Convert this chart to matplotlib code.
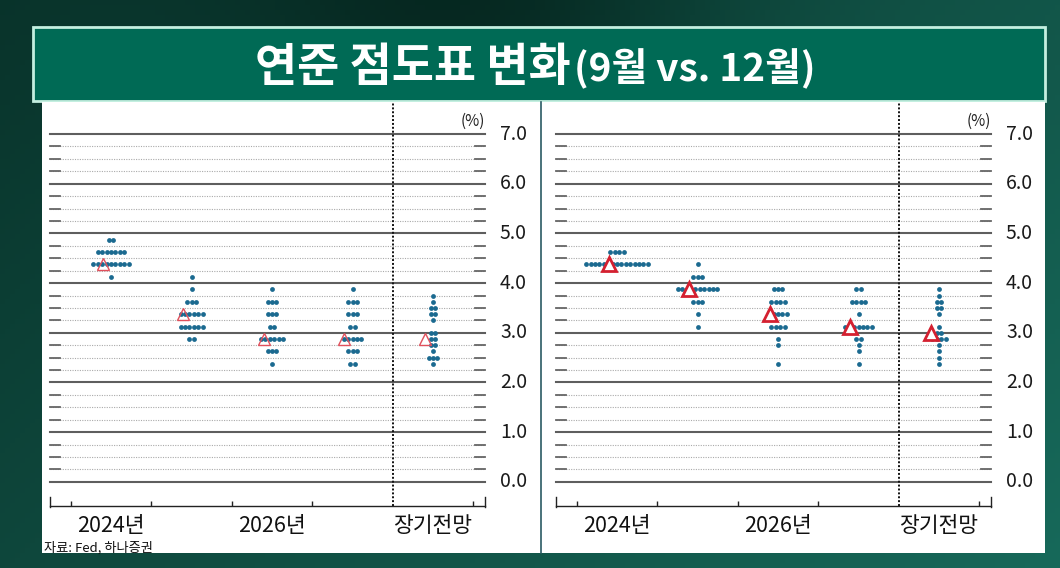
import numpy as np
import matplotlib
matplotlib.use("Agg")
import matplotlib.pyplot as plt
from matplotlib.patches import Rectangle
from matplotlib.colors import to_rgb

plt.rcParams['font.family'] = ['Noto Sans CJK KR', 'DejaVu Sans']

# -----------------------------------------------------------------------
# Data
# -----------------------------------------------------------------------
columns = ["2024년", "2025년", "2026년", "2027년", "장기전망"]

# September SEP: rate levels and number of dots at each level, per column
sep_levels = [
    [4.875, 4.625, 4.375, 4.125],
    [4.125, 3.875, 3.625, 3.375, 3.125, 2.875],
    [3.875, 3.625, 3.375, 3.125, 2.875, 2.625, 2.375],
    [3.875, 3.625, 3.375, 3.125, 2.875, 2.625, 2.375],
    [3.75, 3.625, 3.5, 3.375, 3.25, 3.0, 2.875, 2.75, 2.625, 2.5, 2.375],
]
sep_counts = [
    [2, 7, 9, 1],
    [1, 1, 3, 6, 6, 2],
    [1, 3, 3, 2, 6, 3, 1],
    [1, 3, 3, 2, 5, 3, 2],
    [1, 1, 2, 2, 1, 2, 2, 2, 1, 3, 1],
]
sep_median = [4.375, 3.375, 2.875, 2.875, 2.875]

# December SEP
dec_levels = [
    [4.625, 4.375],
    [4.375, 4.125, 3.875, 3.625, 3.375, 3.125],
    [3.875, 3.625, 3.375, 3.125, 2.875, 2.75, 2.375],
    [3.875, 3.625, 3.375, 3.125, 2.875, 2.75, 2.625, 2.375],
    [3.875, 3.75, 3.625, 3.5, 3.375, 3.125, 3.0, 2.875, 2.75, 2.625, 2.5, 2.375],
]
dec_counts = [
    [4, 15],
    [1, 3, 10, 3, 1, 1],
    [3, 4, 5, 4, 1, 1, 1],
    [2, 4, 1, 7, 2, 1, 1, 1],
    [1, 1, 2, 2, 1, 1, 2, 4, 1, 1, 1, 1],
]
dec_median = [4.375, 3.875, 3.375, 3.125, 3.0]

y_ticks = [0.0, 1.0, 2.0, 3.0, 4.0, 5.0, 6.0, 7.0]

title_main = "연준 점도표 변화"
title_sub = "(9월 vs. 12월)"
source = "자료: Fed, 하나증권"

# -----------------------------------------------------------------------
# Figure + background
# -----------------------------------------------------------------------
W, H = 1060, 568
fig = plt.figure(figsize=(W / 100, H / 100), dpi=100)

bg = fig.add_axes([0, 0, 1, 1])
bg.set_xlim(0, W)
bg.set_ylim(H, 0)
bg.axis('off')

xx, yy = np.meshgrid(np.linspace(0, 1, 212), np.linspace(0, 1, 114))
dark = np.array(to_rgb('#031d17'))
teal = np.array(to_rgb('#17695a'))
w = 0.3 + 0.45 * xx + 0.25 * yy - 0.35 * np.exp(-((xx - 0.45) ** 2 / 0.05 + yy ** 2 / 0.08))
w = np.clip(w, 0, 1)[..., None]
grad = dark * (1 - w) + teal * w
bg.imshow(grad, extent=[0, W, H, 0], aspect='auto', zorder=0)

# title banner
bg.add_patch(Rectangle((33, 27), 1012, 74, facecolor='#006a55',
                       edgecolor='#c4efe0', lw=2, zorder=1))
# white panel
bg.add_patch(Rectangle((42, 102), 1003, 451, facecolor='white',
                       edgecolor='none', zorder=1))
bg.plot([541, 541], [102, 553], color='#2a5a63', lw=1.2, zorder=2)

fig.text(571 / W, 1 - 81 / H, title_main, ha='right', va='baseline',
         fontsize=33, fontweight='bold', color='white')
fig.text(574 / W, 1 - 81 / H, title_sub, ha='left', va='baseline',
         fontsize=28, fontweight='bold', color='white')
fig.text(44 / W, 1 - 548 / H, source, ha='left', va='center',
         fontsize=9.5, color='#111111')

# -----------------------------------------------------------------------
# Panels
# -----------------------------------------------------------------------
px_y = 49.7          # pixels per 1%p
px_x = 80.5          # pixels per column
xmin, xmax = -0.758, 4.646
ybot = -0.485
dot_color = '#1b6a90'
dot_step = 4.4 / px_x


def draw_panel(x0, levels, counts, medians, tri_style):
    ax = fig.add_axes([x0 / W, (H - 506) / H, 435 / W, (506 - 134) / H])
    ax.set_xlim(xmin, xmax)
    ax.set_ylim(ybot, 7.0)
    ax.patch.set_alpha(0)
    for s in ['top', 'left', 'right']:
        ax.spines[s].set_visible(False)
    ax.spines['bottom'].set_color('#222222')
    ax.spines['bottom'].set_linewidth(1.0)

    # grid: solid at whole percents, dotted at quarter points
    for v in np.arange(0, 7.01, 0.25):
        if abs(v - round(v)) < 1e-9:
            ax.plot([xmin, xmax], [v, v], color='#5e5e5e', lw=1.5,
                    zorder=1, clip_on=False)
        else:
            ax.plot([xmin, xmax], [v, v], color='#aaaaaa', lw=0.8,
                    ls=(0, (1, 1.2)), zorder=1, clip_on=False)
            for a, b in [(xmin, xmin + 0.12), (xmax - 0.12, xmax)]:
                ax.plot([a, b], [v, v], color='#666666', lw=1.3,
                        zorder=1, clip_on=False)

    for v in y_ticks:
        ax.text(xmax + 15 / px_x, v, f"{v:.1f}", ha='left', va='center',
                fontsize=14, color='#1a1a1a')
    ax.text(xmax, 7 + 13 / px_y, "(%)", ha='right', va='center',
            fontsize=11, color='#222222')

    # x axis ticks
    ax.set_xticks([-0.5, 0.5, 1.5, 2.5, 4.5])
    ax.set_xticklabels([])
    ax.set_yticks([])
    ax.tick_params(axis='x', direction='in', length=3.5, width=1.0,
                   color='#222222')
    for xe in (xmin, xmax):
        ax.plot([xe, xe], [ybot - 1 / px_y, ybot + 9 / px_y], color='#222222',
                lw=1.0, clip_on=False)
    for i, lab in enumerate(columns):
        if i % 2 == 0:
            ax.text(i, ybot - 20 / px_y, lab, ha='center', va='center',
                    fontsize=15.5, color='#111111')

    # separator before the longer-run column
    ax.plot([3.5, 3.5], [ybot, 7 + 32 / px_y], color='#111111', lw=1.4,
            ls=(0, (1, 1)), clip_on=False, zorder=2)

    # dots
    for i in range(len(columns)):
        for lev, n in zip(levels[i], counts[i]):
            xs = i + (np.arange(n) - (n - 1) / 2) * dot_step
            ax.scatter(xs, np.full(n, lev), s=12, color=dot_color,
                       linewidths=0, zorder=3, clip_on=False)
        ax.plot(i - 0.1, medians[i], marker='^', zorder=4, clip_on=False,
                **tri_style)
    return ax


draw_panel(50, sep_levels, sep_counts, sep_median,
           dict(ms=9, mfc='none', mec='#e0505c', mew=1.0))
draw_panel(556, dec_levels, dec_counts, dec_median,
           dict(ms=10, mfc='white', mec='#d42030', mew=2.0))

fig.savefig('out.png', dpi=100)
